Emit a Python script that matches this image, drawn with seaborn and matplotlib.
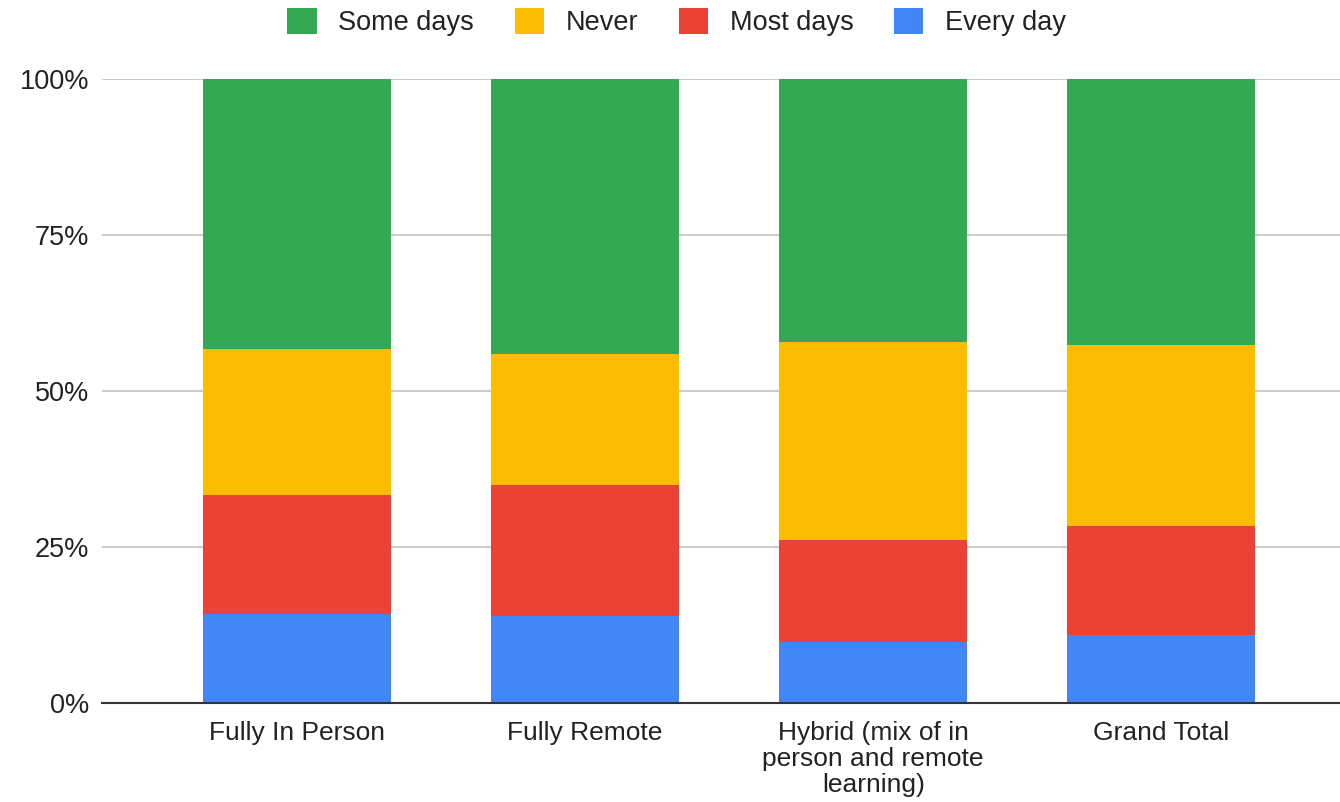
import matplotlib
matplotlib.use("Agg")
import matplotlib.pyplot as plt
import seaborn as sns
import pandas as pd
from matplotlib.ticker import FuncFormatter
from matplotlib.patches import FancyBboxPatch

categories = ["Fully In Person", "Fully Remote",
              "Hybrid (mix of in\nperson and remote\nlearning)", "Grand Total"]
every_day = [14.3, 14.0, 9.8, 10.9]
most_days = [19.1, 20.9, 16.3, 17.5]
never = [23.3, 21.0, 31.8, 29.0]
some_days = [43.3, 44.1, 42.1, 42.6]

series = ["Some days", "Never", "Most days", "Every day"]
colors = {"Some days": "#34A853", "Never": "#FBBC04",
          "Most days": "#EA4335", "Every day": "#4285F4"}

sns.set_theme(style="white")
plt.rcParams["font.family"] = ["Liberation Sans", "DejaVu Sans"]

# cumulative tops, bottom layer first
stack_order = [("Every day", every_day), ("Most days", most_days),
               ("Never", never), ("Some days", some_days)]
cum = [0.0] * len(categories)
tops = {}
for name, vals in stack_order:
    cum = [c + v for c, v in zip(cum, vals)]
    tops[name] = list(cum)

fig = plt.figure(figsize=(13.4, 8.02), dpi=100)
ax = fig.add_axes([0.076, 0.1234, 0.924, 0.7781])

for name in series:  # draw tallest first so lower layers overlay it
    df = pd.DataFrame({"cat": categories, "val": tops[name]})
    sns.barplot(data=df, x="cat", y="val", color=colors[name], width=0.653,
                saturation=1, ax=ax, edgecolor="none", linewidth=0)

ax.set_ylim(0, 100)
ax.set_xlim(-0.677, 3.62)
ax.set_yticks([0, 25, 50, 75, 100])
ax.yaxis.set_major_formatter(FuncFormatter(lambda v, p: f"{v:.0f}%"))
ax.yaxis.grid(True, color="#cccccc", linewidth=1.5)
ax.set_axisbelow(True)
for s in ["top", "right", "left"]:
    ax.spines[s].set_visible(False)
ax.spines["bottom"].set_color("#333333")
ax.spines["bottom"].set_linewidth(1.5)
ax.set_xlabel("")
ax.set_ylabel("")
ax.tick_params(axis="y", length=0, labelsize=19.5, labelcolor="#222222", pad=9)
ax.tick_params(axis="x", length=0, labelsize=19, labelcolor="#222222", pad=13)
for lbl in ax.get_xticklabels():
    lbl.set_linespacing(1.1)

handles = [FancyBboxPatch((0, 0), 1, 1, boxstyle="round,pad=0,rounding_size=0.15",
                          facecolor=colors[n], edgecolor="none") for n in series]
leg = fig.legend(handles, series, loc="center", bbox_to_anchor=(0.505, 0.973),
                 ncol=4, frameon=False, fontsize=19.5, handlelength=1.08,
                 handleheight=1.1, columnspacing=1.5, handletextpad=0.8)
for t in leg.get_texts():
    t.set_color("#222222")

fig.savefig("out.png", dpi=100)
